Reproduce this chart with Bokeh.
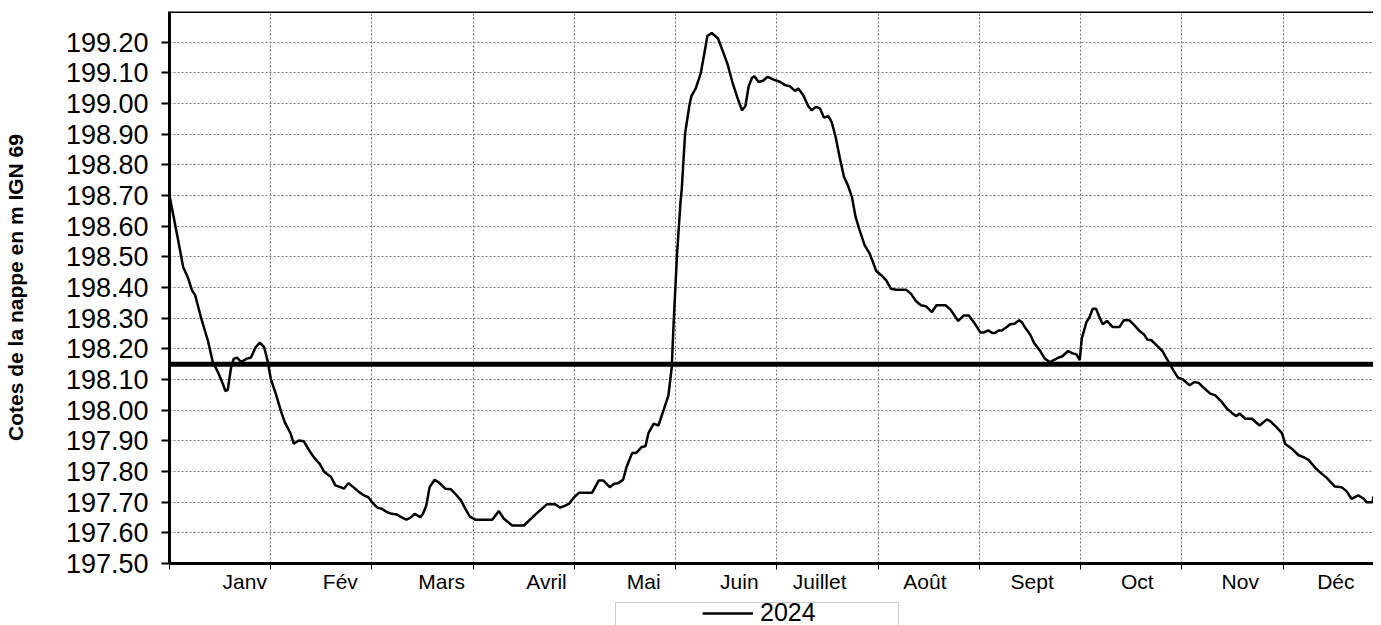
from bokeh.plotting import figure
from bokeh.layouts import column
from bokeh.models import (Range1d, FixedTicker, NumeralTickFormatter, Span, Legend, LegendItem)
from bokeh.embed import file_html
from bokeh.resources import INLINE

# ---- data (x in days since start of chart, y = level in m IGN 69) ----
days_jan = [0, 2.6, 4.1, 5.6, 6.8, 7.7, 9.5, 11.5, 13.0, 14.5, 16.0, 16.8, 17.5, 18.5, 19.3, 20.3,
            21.5, 23.2, 24.4, 25.9, 27.1, 28.4, 29.4]
lvl_jan = [198.70, 198.554, 198.467, 198.43, 198.39, 198.375, 198.30, 198.228, 198.157, 198.125,
           198.086, 198.062, 198.067, 198.14, 198.168, 198.171, 198.157, 198.168, 198.171, 198.206,
           198.22, 198.206, 198.163]
days_feb_mar = [30.4, 31.9, 33.4, 34.6, 36.4, 37.3, 38.8, 40.3, 41.8, 43.3, 45.1, 46.5, 48.5, 49.8,
                51.3, 52.4, 53.7, 55.2, 56.9, 58.4, 59.7, 61.2, 62.4, 63.7, 65.2, 66.7, 68.3, 69.6,
                71.1, 72.3, 73.6, 75.3, 76.1, 77.1, 78.1, 79.6, 81.1, 82.8, 84.5, 86.0, 87.5, 88.8,
                90.2, 91.8]
lvl_feb_mar = [198.103, 198.054, 197.999, 197.961, 197.923, 197.891, 197.901, 197.899, 197.871,
               197.847, 197.825, 197.798, 197.782, 197.755, 197.749, 197.744, 197.762, 197.749,
               197.733, 197.722, 197.716, 197.695, 197.682, 197.679, 197.668, 197.662, 197.66,
               197.651, 197.643, 197.649, 197.662, 197.651, 197.662, 197.689, 197.749, 197.773,
               197.762, 197.744, 197.742, 197.725, 197.706, 197.679, 197.653, 197.643]
days_apr_may = [96.9, 98.9, 100.4, 102.9, 106.4, 109.9, 113.3, 115.8, 117.3, 118.8, 120.0, 121.3,
                123.0, 126.9, 128.9, 130.2, 132.2, 133.5, 134.7, 136.2, 137.2, 138.9, 140.1, 141.8,
                142.9, 143.8, 145.4, 146.8, 148.4, 149.8, 150.8]
lvl_apr_may = [197.643, 197.671, 197.646, 197.624, 197.624, 197.66, 197.693, 197.693, 197.682,
               197.689, 197.695, 197.714, 197.731, 197.731, 197.771, 197.771, 197.749, 197.760,
               197.762, 197.773, 197.814, 197.86, 197.86, 197.88, 197.882, 197.925, 197.956,
               197.95, 198.002, 198.048, 198.14]
days_jun_jul = [151.4, 152.4, 153.4, 153.8, 154.8, 156.1, 156.7, 158.0, 159.5, 160.5, 161.5, 162.8,
                164.7, 166.0, 167.5, 169.0, 170.7, 171.9, 172.9, 173.9, 174.9, 175.6, 176.9, 178.2,
                179.6, 181.4, 183.4, 184.8, 186.3, 187.8, 188.8, 190.3, 191.8, 192.8, 194.1, 195.3,
                196.5, 197.8, 198.8, 200.0, 201.2, 202.5, 203.7, 204.9]
lvl_jun_jul = [198.293, 198.511, 198.674, 198.72, 198.902, 198.994, 199.024, 199.049, 199.098,
               199.158, 199.22, 199.23, 199.212, 199.174, 199.13, 199.07, 199.013, 198.978,
               198.991, 199.056, 199.084, 199.089, 199.07, 199.074, 199.087, 199.078, 199.07,
               199.06, 199.056, 199.041, 199.049, 199.027, 198.991, 198.978, 198.989, 198.984,
               198.954, 198.959, 198.94, 198.891, 198.826, 198.761, 198.733, 198.695]
days_aug = [206.0, 207.2, 208.7, 210.2, 211.2, 212.2, 213.7, 215.2, 216.6, 218.1, 221.1, 222.6,
            224.1, 225.6, 227.1, 228.9, 230.3, 233.0, 234.5, 236.8, 238.5, 240.0, 241.5, 243.5,
            244.4, 245.8, 247.0, 247.9]
lvl_aug = [198.63, 198.587, 198.538, 198.511, 198.483, 198.454, 198.44, 198.423, 198.396, 198.393,
           198.393, 198.38, 198.356, 198.342, 198.339, 198.32, 198.342, 198.342, 198.328, 198.291,
           198.309, 198.309, 198.287, 198.253, 198.253, 198.26, 198.252, 198.252]
days_sep_oct = [248.9, 249.9, 251.4, 252.4, 253.7, 255.1, 255.9, 257.1, 258.4, 259.6, 261.3, 262.8,
                264.3, 265.8, 266.8, 268.0, 269.8, 271.0, 272.3, 273.3, 273.9, 275.3, 276.2, 277.2,
                278.2, 279.2, 280.2, 281.5, 283.2, 285.2, 286.5, 288.2, 289.7, 291.1, 292.6, 293.6,
                294.8, 296.4, 298.1, 299.4, 300.6]
lvl_sep_oct = [198.26, 198.26, 198.271, 198.28, 198.282, 198.293, 198.287, 198.266, 198.247,
               198.219, 198.195, 198.168, 198.157, 198.165, 198.171, 198.175, 198.193, 198.186,
               198.182, 198.163, 198.233, 198.287, 198.302, 198.331, 198.331, 198.304, 198.28,
               198.291, 198.271, 198.271, 198.293, 198.293, 198.277, 198.26, 198.247, 198.23,
               198.228, 198.211, 198.193, 198.168, 198.146]
days_nov_dec = [301.4, 302.8, 304.3, 306.3, 307.7, 309.0, 310.5, 312.5, 314.0, 316.0, 317.5, 319.0,
                320.3, 321.3, 323.0, 325.0, 327.3, 329.5, 330.5, 332.5, 334.0, 335.0, 337.0, 339.0,
                340.5, 342.0, 344.0, 345.9, 347.4, 349.9, 351.9, 353.4, 354.9, 356.9, 358.6, 359.4,
                361.2, 361.5]
lvl_nov_dec = [198.13, 198.106, 198.10, 198.081, 198.092, 198.089, 198.073, 198.054, 198.048,
               198.026, 198.005, 197.991, 197.98, 197.989, 197.972, 197.972, 197.95, 197.97,
               197.964, 197.943, 197.925, 197.89, 197.874, 197.853, 197.847, 197.838, 197.812,
               197.793, 197.78, 197.751, 197.749, 197.736, 197.711, 197.722, 197.711, 197.70,
               197.70, 197.719]

days = days_jan + days_feb_mar + days_apr_may + days_jun_jul + days_aug + days_sep_oct + days_nov_dec
levels = lvl_jan + lvl_feb_mar + lvl_apr_may + lvl_jun_jul + lvl_aug + lvl_sep_oct + lvl_nov_dec

threshold = 198.15
series_name = "2024"

month_labels = ["Janv", "Fév", "Mars", "Avril", "Mai", "Juin", "Juillet", "Août", "Sept", "Oct", "Nov", "Déc"]
month_label_pos = [22.6, 51.3, 81.7, 113.2, 142.4, 171.1, 195.2, 226.8, 259.0, 290.6, 321.5, 350.2]
month_grid = [round(30.4 * i, 1) for i in range(0, 12)]
y_ticks = [round(197.5 + 0.1 * i, 2) for i in range(0, 18)]

FONT = "Liberation Sans"

p = figure(width=1373, height=597, output_backend="svg", toolbar_location=None, title=None,
           x_range=Range1d(0, 361.5), y_range=Range1d(197.5, 199.3),
           min_border_left=160, min_border_right=0, min_border_top=11, min_border_bottom=34)
p.background_fill_color = "white"
p.border_fill_color = "white"
p.outline_line_color = None

# y axis
p.yaxis.ticker = FixedTicker(ticks=y_ticks)
p.yaxis.formatter = NumeralTickFormatter(format="0.00")
p.yaxis.axis_label = "Cotes de la nappe en m IGN 69"
p.yaxis.axis_label_text_font = FONT
p.yaxis.axis_label_text_font_style = "bold"
p.yaxis.axis_label_text_font_size = "21px"
p.yaxis.axis_label_text_color = "black"
p.yaxis.axis_label_standoff = 36
p.yaxis.major_label_text_font = FONT
p.yaxis.major_label_text_font_size = "27px"
p.yaxis.major_label_text_color = "black"
p.yaxis.major_label_standoff = 13
p.yaxis.axis_line_width = 3
p.yaxis.axis_line_color = "black"
p.yaxis.major_tick_out = 8
p.yaxis.major_tick_in = 0
p.yaxis.major_tick_line_width = 2
p.yaxis.major_tick_line_color = "black"
p.yaxis.minor_tick_line_color = None

# x axis
p.xaxis.ticker = FixedTicker(ticks=month_label_pos, minor_ticks=month_grid)
p.xaxis.major_label_overrides = {pos: lab for pos, lab in zip(month_label_pos, month_labels)}
p.xaxis.major_label_text_font = FONT
p.xaxis.major_label_text_font_size = "21px"
p.xaxis.major_label_text_color = "black"
p.xaxis.major_label_standoff = 0
p.xaxis.major_tick_line_color = None
p.xaxis.major_tick_out = 0
p.xaxis.major_tick_in = 0
p.xaxis.minor_tick_out = 6
p.xaxis.minor_tick_in = 0
p.xaxis.minor_tick_line_color = "black"
p.xaxis.minor_tick_line_width = 1
p.xaxis.axis_line_width = 3
p.xaxis.axis_line_color = "black"

# grids
p.xgrid.ticker = FixedTicker(ticks=month_grid[1:])
p.xgrid.grid_line_color = "#6e6e6e"
p.xgrid.grid_line_dash = "2 2"
p.xgrid.grid_line_width = 1
p.ygrid.ticker = FixedTicker(ticks=y_ticks)
p.ygrid.grid_line_color = "#7a7a7a"
p.ygrid.grid_line_dash = "2 2"
p.ygrid.grid_line_width = 1

# top border
p.add_layout(Span(location=199.3, dimension="width", line_color="black", line_width=3))

# threshold line
p.add_layout(Span(location=threshold, dimension="width", line_color="black", line_width=5))

# series
r = p.line(days, levels, line_color="black", line_width=2.5)

# ---- legend strip below the chart (frame aligned with the chart frame) ----
lg = figure(width=1373, height=28, output_backend="svg", toolbar_location=None, title=None,
            x_range=Range1d(0, 1), y_range=Range1d(0, 1), x_axis_type=None, y_axis_type=None,
            min_border_left=0, min_border_right=0, min_border_top=0, min_border_bottom=0)
lg.outline_line_color = None
lg.background_fill_color = "white"
lg.border_fill_color = "white"
lg.xgrid.visible = False
lg.ygrid.visible = False
# same series (out of this strip's view) so the legend can draw its line sample
r_leg = lg.line(days, levels, line_color="black", line_width=2.5)
spacer = lg.line(days, levels, line_alpha=0)

box = Legend(items=[LegendItem(label=" ", renderers=[spacer])], location=(446, -7),
             padding=4, margin=0, spacing=0, glyph_width=1, glyph_height=20, label_standoff=0,
             label_width=273, label_height=20, label_text_font=FONT, label_text_font_size="25px",
             border_line_color="#9a9a9a", border_line_width=1, background_fill_color="white",
             background_fill_alpha=1.0)
leg = Legend(items=[LegendItem(label=series_name, renderers=[r_leg])], location=(529, -6),
             padding=4, margin=0, spacing=0, glyph_width=51, glyph_height=20, label_standoff=7,
             label_height=20, label_text_font=FONT, label_text_font_size="25px",
             label_text_color="black", border_line_alpha=0, background_fill_alpha=0)
lg.add_layout(box, "center")
lg.add_layout(leg, "center")

layout = column(p, lg, spacing=0)
open("out.html", "w").write(file_html(layout, INLINE))
